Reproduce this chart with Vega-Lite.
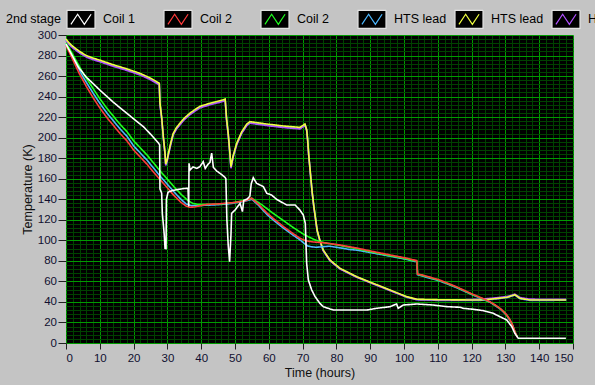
{
  "$schema": "https://vega.github.io/schema/vega-lite/v6.json",
  "width": 507,
  "height": 308,
  "autosize": {"type": "none"},
  "padding": {"left": 66, "top": 35, "right": 22, "bottom": 42},
  "background": "#c4c4c4",
  "view": {"fill": "#000000", "stroke": null},
  "config": {"font": "Liberation Sans"},
  "data": {"values": [
{"series":"HTS lead #3","hours":0,"K":295},{"series":"HTS lead #3","hours":1,"K":291},{"series":"HTS lead #3","hours":2,"K":288},{"series":"HTS lead #3","hours":4,"K":283},{"series":"HTS lead #3","hours":6,"K":279},{"series":"HTS lead #3","hours":8,"K":276.5},{"series":"HTS lead #3","hours":10,"K":274.5},{"series":"HTS lead #3","hours":14,"K":270},{"series":"HTS lead #3","hours":18,"K":266},{"series":"HTS lead #3","hours":22,"K":261.5},{"series":"HTS lead #3","hours":25,"K":257},{"series":"HTS lead #3","hours":27.6,"K":252},{"series":"HTS lead #3","hours":27.8,"K":233},{"series":"HTS lead #3","hours":28.3,"K":219},{"series":"HTS lead #3","hours":28.8,"K":200},{"series":"HTS lead #3","hours":29.3,"K":184},{"series":"HTS lead #3","hours":29.5,"K":173.5},{"series":"HTS lead #3","hours":29.9,"K":177},{"series":"HTS lead #3","hours":30.3,"K":183.7},{"series":"HTS lead #3","hours":31,"K":194},{"series":"HTS lead #3","hours":31.7,"K":203},{"series":"HTS lead #3","hours":32.7,"K":209},{"series":"HTS lead #3","hours":33.7,"K":213},{"series":"HTS lead #3","hours":35,"K":218},{"series":"HTS lead #3","hours":36.7,"K":223},{"series":"HTS lead #3","hours":38,"K":226},{"series":"HTS lead #3","hours":39.6,"K":229.5},{"series":"HTS lead #3","hours":42.6,"K":232.5},{"series":"HTS lead #3","hours":45.6,"K":235},{"series":"HTS lead #3","hours":47.1,"K":236.5},{"series":"HTS lead #3","hours":47.5,"K":217.8},{"series":"HTS lead #3","hours":48,"K":203},{"series":"HTS lead #3","hours":48.5,"K":183.8},{"series":"HTS lead #3","hours":48.8,"K":170.7},{"series":"HTS lead #3","hours":49.5,"K":182},{"series":"HTS lead #3","hours":50.5,"K":193.5},{"series":"HTS lead #3","hours":52,"K":204.8},{"series":"HTS lead #3","hours":53.5,"K":212.3},{"series":"HTS lead #3","hours":54.4,"K":214.6},{"series":"HTS lead #3","hours":59.4,"K":212.3},{"series":"HTS lead #3","hours":64.3,"K":210.4},{"series":"HTS lead #3","hours":69.2,"K":209},{"series":"HTS lead #3","hours":70.7,"K":212.3},{"series":"HTS lead #3","hours":71.2,"K":207.5},{"series":"HTS lead #3","hours":71.5,"K":197.5},{"series":"HTS lead #3","hours":71.8,"K":183.5},{"series":"HTS lead #3","hours":72.3,"K":165.5},{"series":"HTS lead #3","hours":72.8,"K":147.5},{"series":"HTS lead #3","hours":73.3,"K":133.5},{"series":"HTS lead #3","hours":73.8,"K":121.5},{"series":"HTS lead #3","hours":74.3,"K":109.5},{"series":"HTS lead #3","hours":75.1,"K":99.8},{"series":"HTS lead #3","hours":76.1,"K":90.2},{"series":"HTS lead #3","hours":78.1,"K":80.4},{"series":"HTS lead #3","hours":81.1,"K":72.3},{"series":"HTS lead #3","hours":86,"K":64.3},{"series":"HTS lead #3","hours":90.9,"K":57.8},{"series":"HTS lead #3","hours":95.9,"K":51.3},{"series":"HTS lead #3","hours":100.8,"K":44.8},{"series":"HTS lead #3","hours":103.8,"K":42.1},{"series":"HTS lead #3","hours":110,"K":41.5},{"series":"HTS lead #3","hours":115,"K":41.4},{"series":"HTS lead #3","hours":122.5,"K":41.5},{"series":"HTS lead #3","hours":125,"K":42.2},{"series":"HTS lead #3","hours":128,"K":43.2},{"series":"HTS lead #3","hours":130.5,"K":44.2},{"series":"HTS lead #3","hours":132.8,"K":46.6},{"series":"HTS lead #3","hours":134.3,"K":43.1},{"series":"HTS lead #3","hours":137.2,"K":41.5},{"series":"HTS lead #3","hours":148,"K":41.6},
{"series":"HTS lead #2","hours":0,"K":294.5},{"series":"HTS lead #2","hours":1,"K":290.5},{"series":"HTS lead #2","hours":2,"K":287.5},{"series":"HTS lead #2","hours":4,"K":282.5},{"series":"HTS lead #2","hours":6,"K":278.5},{"series":"HTS lead #2","hours":8,"K":276},{"series":"HTS lead #2","hours":10,"K":274},{"series":"HTS lead #2","hours":14,"K":269.5},{"series":"HTS lead #2","hours":18,"K":265.5},{"series":"HTS lead #2","hours":22,"K":261},{"series":"HTS lead #2","hours":25,"K":256.5},{"series":"HTS lead #2","hours":27.6,"K":251.5},{"series":"HTS lead #2","hours":27.8,"K":232.5},{"series":"HTS lead #2","hours":28.3,"K":218.5},{"series":"HTS lead #2","hours":28.8,"K":199.5},{"series":"HTS lead #2","hours":29.3,"K":183.5},{"series":"HTS lead #2","hours":29.5,"K":173},{"series":"HTS lead #2","hours":29.9,"K":176.5},{"series":"HTS lead #2","hours":30.3,"K":183.2},{"series":"HTS lead #2","hours":31,"K":193.5},{"series":"HTS lead #2","hours":31.7,"K":202.5},{"series":"HTS lead #2","hours":32.7,"K":208.5},{"series":"HTS lead #2","hours":33.7,"K":212.5},{"series":"HTS lead #2","hours":35,"K":217.5},{"series":"HTS lead #2","hours":36.7,"K":222.5},{"series":"HTS lead #2","hours":38,"K":225.5},{"series":"HTS lead #2","hours":39.6,"K":229},{"series":"HTS lead #2","hours":42.6,"K":232},{"series":"HTS lead #2","hours":45.6,"K":234.5},{"series":"HTS lead #2","hours":47.1,"K":236},{"series":"HTS lead #2","hours":47.5,"K":217.3},{"series":"HTS lead #2","hours":48,"K":202.5},{"series":"HTS lead #2","hours":48.5,"K":183.3},{"series":"HTS lead #2","hours":48.8,"K":170.2},{"series":"HTS lead #2","hours":49.5,"K":181.5},{"series":"HTS lead #2","hours":50.5,"K":193},{"series":"HTS lead #2","hours":52,"K":204.3},{"series":"HTS lead #2","hours":53.5,"K":211.8},{"series":"HTS lead #2","hours":54.4,"K":214.1},{"series":"HTS lead #2","hours":59.4,"K":211.8},{"series":"HTS lead #2","hours":64.3,"K":209.9},{"series":"HTS lead #2","hours":69.2,"K":208.5},{"series":"HTS lead #2","hours":70.7,"K":211.8},{"series":"HTS lead #2","hours":71.2,"K":207},{"series":"HTS lead #2","hours":71.5,"K":197},{"series":"HTS lead #2","hours":71.8,"K":183},{"series":"HTS lead #2","hours":72.3,"K":165},{"series":"HTS lead #2","hours":72.8,"K":147},{"series":"HTS lead #2","hours":73.3,"K":133},{"series":"HTS lead #2","hours":73.8,"K":121},{"series":"HTS lead #2","hours":74.3,"K":109},{"series":"HTS lead #2","hours":75.1,"K":99.5},{"series":"HTS lead #2","hours":76.1,"K":89.8},{"series":"HTS lead #2","hours":78.1,"K":80},{"series":"HTS lead #2","hours":81.1,"K":72},{"series":"HTS lead #2","hours":86,"K":64},{"series":"HTS lead #2","hours":90.9,"K":57.5},{"series":"HTS lead #2","hours":95.9,"K":51},{"series":"HTS lead #2","hours":100.8,"K":44.6},{"series":"HTS lead #2","hours":103.8,"K":42.3},{"series":"HTS lead #2","hours":110,"K":42},{"series":"HTS lead #2","hours":115,"K":41.8},{"series":"HTS lead #2","hours":122.5,"K":42.7},{"series":"HTS lead #2","hours":125,"K":43.3},{"series":"HTS lead #2","hours":128,"K":44.3},{"series":"HTS lead #2","hours":130.5,"K":45.3},{"series":"HTS lead #2","hours":132.8,"K":47.5},{"series":"HTS lead #2","hours":134.3,"K":44.3},{"series":"HTS lead #2","hours":137.2,"K":42.7},{"series":"HTS lead #2","hours":148,"K":42.6},
{"series":"HTS lead","hours":0,"K":296},{"series":"HTS lead","hours":1,"K":292},{"series":"HTS lead","hours":2,"K":289},{"series":"HTS lead","hours":4,"K":284},{"series":"HTS lead","hours":6,"K":280},{"series":"HTS lead","hours":8,"K":277.5},{"series":"HTS lead","hours":10,"K":275.5},{"series":"HTS lead","hours":14,"K":271},{"series":"HTS lead","hours":18,"K":267},{"series":"HTS lead","hours":22,"K":262.5},{"series":"HTS lead","hours":25,"K":258},{"series":"HTS lead","hours":27.6,"K":253},{"series":"HTS lead","hours":27.8,"K":234},{"series":"HTS lead","hours":28.3,"K":220},{"series":"HTS lead","hours":28.8,"K":201},{"series":"HTS lead","hours":29.3,"K":185},{"series":"HTS lead","hours":29.5,"K":174.5},{"series":"HTS lead","hours":29.9,"K":178},{"series":"HTS lead","hours":30.3,"K":184.7},{"series":"HTS lead","hours":31,"K":195},{"series":"HTS lead","hours":31.7,"K":204},{"series":"HTS lead","hours":32.7,"K":210},{"series":"HTS lead","hours":33.7,"K":214},{"series":"HTS lead","hours":35,"K":219},{"series":"HTS lead","hours":36.7,"K":224},{"series":"HTS lead","hours":38,"K":227},{"series":"HTS lead","hours":39.6,"K":230.5},{"series":"HTS lead","hours":42.6,"K":233.5},{"series":"HTS lead","hours":45.6,"K":236},{"series":"HTS lead","hours":47.1,"K":237.5},{"series":"HTS lead","hours":47.5,"K":218.8},{"series":"HTS lead","hours":48,"K":204},{"series":"HTS lead","hours":48.5,"K":184.8},{"series":"HTS lead","hours":48.8,"K":171.7},{"series":"HTS lead","hours":49.5,"K":183},{"series":"HTS lead","hours":50.5,"K":194.5},{"series":"HTS lead","hours":52,"K":205.8},{"series":"HTS lead","hours":53.5,"K":213.3},{"series":"HTS lead","hours":54.4,"K":215.6},{"series":"HTS lead","hours":59.4,"K":213.3},{"series":"HTS lead","hours":64.3,"K":211.4},{"series":"HTS lead","hours":69.2,"K":210},{"series":"HTS lead","hours":70.7,"K":213.3},{"series":"HTS lead","hours":71.2,"K":208},{"series":"HTS lead","hours":71.5,"K":198},{"series":"HTS lead","hours":71.8,"K":184},{"series":"HTS lead","hours":72.3,"K":166},{"series":"HTS lead","hours":72.8,"K":148},{"series":"HTS lead","hours":73.3,"K":134},{"series":"HTS lead","hours":73.8,"K":122},{"series":"HTS lead","hours":74.3,"K":110},{"series":"HTS lead","hours":75.1,"K":100.3},{"series":"HTS lead","hours":76.1,"K":90.6},{"series":"HTS lead","hours":78.1,"K":80.8},{"series":"HTS lead","hours":81.1,"K":72.7},{"series":"HTS lead","hours":86,"K":64.6},{"series":"HTS lead","hours":90.9,"K":58.1},{"series":"HTS lead","hours":95.9,"K":51.6},{"series":"HTS lead","hours":100.8,"K":45.1},{"series":"HTS lead","hours":103.8,"K":42.6},{"series":"HTS lead","hours":110,"K":42.2},{"series":"HTS lead","hours":115,"K":42},{"series":"HTS lead","hours":122.5,"K":41.9},{"series":"HTS lead","hours":125,"K":42.5},{"series":"HTS lead","hours":128,"K":43.5},{"series":"HTS lead","hours":130.5,"K":44.5},{"series":"HTS lead","hours":132.8,"K":47},{"series":"HTS lead","hours":134.3,"K":43.5},{"series":"HTS lead","hours":137.2,"K":41.9},{"series":"HTS lead","hours":148,"K":41.9},
{"series":"Coil 2 #2","hours":0,"K":291},{"series":"Coil 2 #2","hours":1,"K":285},{"series":"Coil 2 #2","hours":2,"K":278.5},{"series":"Coil 2 #2","hours":3,"K":272},{"series":"Coil 2 #2","hours":4,"K":265.5},{"series":"Coil 2 #2","hours":5,"K":259.5},{"series":"Coil 2 #2","hours":6,"K":254},{"series":"Coil 2 #2","hours":8,"K":243.5},{"series":"Coil 2 #2","hours":10,"K":233.5},{"series":"Coil 2 #2","hours":12,"K":224.5},{"series":"Coil 2 #2","hours":14,"K":216.5},{"series":"Coil 2 #2","hours":16,"K":208.5},{"series":"Coil 2 #2","hours":18,"K":201.5},{"series":"Coil 2 #2","hours":20,"K":192},{"series":"Coil 2 #2","hours":22,"K":185},{"series":"Coil 2 #2","hours":24,"K":178},{"series":"Coil 2 #2","hours":26,"K":170},{"series":"Coil 2 #2","hours":28,"K":162},{"series":"Coil 2 #2","hours":30,"K":154.5},{"series":"Coil 2 #2","hours":32,"K":147},{"series":"Coil 2 #2","hours":34,"K":140},{"series":"Coil 2 #2","hours":35.5,"K":135.5},{"series":"Coil 2 #2","hours":37,"K":133.8},{"series":"Coil 2 #2","hours":40,"K":134},{"series":"Coil 2 #2","hours":44,"K":134.5},{"series":"Coil 2 #2","hours":48,"K":135.5},{"series":"Coil 2 #2","hours":52,"K":137.5},{"series":"Coil 2 #2","hours":55,"K":140},{"series":"Coil 2 #2","hours":57,"K":134},{"series":"Coil 2 #2","hours":59.5,"K":125},{"series":"Coil 2 #2","hours":62,"K":118},{"series":"Coil 2 #2","hours":64.3,"K":112},{"series":"Coil 2 #2","hours":67,"K":105.5},{"series":"Coil 2 #2","hours":69.2,"K":100.5},{"series":"Coil 2 #2","hours":70.5,"K":97},{"series":"Coil 2 #2","hours":71.5,"K":94.5},{"series":"Coil 2 #2","hours":72.5,"K":93.8},{"series":"Coil 2 #2","hours":74,"K":93.2},{"series":"Coil 2 #2","hours":76,"K":93.8},{"series":"Coil 2 #2","hours":78,"K":94.3},{"series":"Coil 2 #2","hours":80,"K":93.2},{"series":"Coil 2 #2","hours":82,"K":92.2},{"series":"Coil 2 #2","hours":84,"K":91},{"series":"Coil 2 #2","hours":86,"K":90.5},{"series":"Coil 2 #2","hours":91,"K":87.5},{"series":"Coil 2 #2","hours":96,"K":84.5},{"series":"Coil 2 #2","hours":101,"K":81.3},{"series":"Coil 2 #2","hours":103.8,"K":79},{"series":"Coil 2 #2","hours":104,"K":66.5},{"series":"Coil 2 #2","hours":110.5,"K":60.5},{"series":"Coil 2 #2","hours":115.5,"K":54},{"series":"Coil 2 #2","hours":120.2,"K":47},{"series":"Coil 2 #2","hours":125.4,"K":39.8},{"series":"Coil 2 #2","hours":128.4,"K":33.4},{"series":"Coil 2 #2","hours":130.4,"K":27},{"series":"Coil 2 #2","hours":131.9,"K":19},{"series":"Coil 2 #2","hours":132.8,"K":10.8},{"series":"Coil 2 #2","hours":133.5,"K":6},
{"series":"Coil 2","hours":0,"K":292},{"series":"Coil 2","hours":1,"K":287},{"series":"Coil 2","hours":2,"K":281},{"series":"Coil 2","hours":3,"K":275},{"series":"Coil 2","hours":4,"K":269},{"series":"Coil 2","hours":5,"K":263},{"series":"Coil 2","hours":6,"K":258},{"series":"Coil 2","hours":8,"K":248},{"series":"Coil 2","hours":10,"K":238},{"series":"Coil 2","hours":12,"K":229},{"series":"Coil 2","hours":14,"K":221},{"series":"Coil 2","hours":16,"K":213},{"series":"Coil 2","hours":18,"K":206},{"series":"Coil 2","hours":20,"K":197},{"series":"Coil 2","hours":22,"K":190},{"series":"Coil 2","hours":24,"K":183},{"series":"Coil 2","hours":26,"K":175},{"series":"Coil 2","hours":28,"K":167},{"series":"Coil 2","hours":30,"K":159.5},{"series":"Coil 2","hours":32,"K":152},{"series":"Coil 2","hours":34,"K":145},{"series":"Coil 2","hours":36,"K":139},{"series":"Coil 2","hours":37.5,"K":136},{"series":"Coil 2","hours":39,"K":135},{"series":"Coil 2","hours":42,"K":135},{"series":"Coil 2","hours":46,"K":135.5},{"series":"Coil 2","hours":50,"K":137},{"series":"Coil 2","hours":53,"K":139},{"series":"Coil 2","hours":55,"K":141},{"series":"Coil 2","hours":58,"K":134.5},{"series":"Coil 2","hours":61,"K":127},{"series":"Coil 2","hours":64,"K":120},{"series":"Coil 2","hours":67,"K":113},{"series":"Coil 2","hours":70,"K":106.5},{"series":"Coil 2","hours":72,"K":103},{"series":"Coil 2","hours":74,"K":100},{"series":"Coil 2","hours":76,"K":98},{"series":"Coil 2","hours":81,"K":95},{"series":"Coil 2","hours":86,"K":91.8},{"series":"Coil 2","hours":91,"K":88.3},{"series":"Coil 2","hours":96,"K":85},{"series":"Coil 2","hours":101,"K":81.8},{"series":"Coil 2","hours":103.8,"K":79.5},{"series":"Coil 2","hours":104,"K":67},{"series":"Coil 2","hours":105.5,"K":65.8},{"series":"Coil 2","hours":110.5,"K":61},{"series":"Coil 2","hours":115.5,"K":54.5},{"series":"Coil 2","hours":120.2,"K":47.3},{"series":"Coil 2","hours":123,"K":43.5},{"series":"Coil 2","hours":125.4,"K":40},{"series":"Coil 2","hours":127,"K":36.8},{"series":"Coil 2","hours":128.4,"K":33.6},{"series":"Coil 2","hours":129.5,"K":30.3},{"series":"Coil 2","hours":130.4,"K":27.1},{"series":"Coil 2","hours":131.2,"K":23.3},{"series":"Coil 2","hours":131.9,"K":19},{"series":"Coil 2","hours":132.4,"K":14.8},{"series":"Coil 2","hours":132.8,"K":10.8},{"series":"Coil 2","hours":133.5,"K":6},
{"series":"Coil 1","hours":0,"K":290},{"series":"Coil 1","hours":1,"K":283},{"series":"Coil 1","hours":2,"K":276},{"series":"Coil 1","hours":3,"K":269},{"series":"Coil 1","hours":4,"K":262},{"series":"Coil 1","hours":5,"K":256},{"series":"Coil 1","hours":6,"K":250},{"series":"Coil 1","hours":8,"K":239},{"series":"Coil 1","hours":10,"K":229},{"series":"Coil 1","hours":12,"K":220},{"series":"Coil 1","hours":14,"K":212},{"series":"Coil 1","hours":16,"K":204},{"series":"Coil 1","hours":18,"K":197},{"series":"Coil 1","hours":20,"K":188},{"series":"Coil 1","hours":22,"K":181},{"series":"Coil 1","hours":24,"K":174},{"series":"Coil 1","hours":26,"K":166},{"series":"Coil 1","hours":28,"K":158.5},{"series":"Coil 1","hours":30,"K":151},{"series":"Coil 1","hours":32,"K":143.5},{"series":"Coil 1","hours":34,"K":137},{"series":"Coil 1","hours":35.5,"K":133.5},{"series":"Coil 1","hours":36.5,"K":132.2},{"series":"Coil 1","hours":38,"K":132.5},{"series":"Coil 1","hours":41.6,"K":135},{"series":"Coil 1","hours":44.6,"K":135.4},{"series":"Coil 1","hours":49.5,"K":136.7},{"series":"Coil 1","hours":53,"K":138.5},{"series":"Coil 1","hours":54.9,"K":141},{"series":"Coil 1","hours":57,"K":135},{"series":"Coil 1","hours":59.5,"K":126.5},{"series":"Coil 1","hours":62,"K":119.5},{"series":"Coil 1","hours":64.3,"K":113.5},{"series":"Coil 1","hours":67,"K":107},{"series":"Coil 1","hours":69.2,"K":102},{"series":"Coil 1","hours":71,"K":99.5},{"series":"Coil 1","hours":73,"K":98.5},{"series":"Coil 1","hours":76,"K":97.7},{"series":"Coil 1","hours":81,"K":95.5},{"series":"Coil 1","hours":86,"K":92.5},{"series":"Coil 1","hours":91,"K":89},{"series":"Coil 1","hours":96,"K":85.7},{"series":"Coil 1","hours":101,"K":82.5},{"series":"Coil 1","hours":103.8,"K":80.2},{"series":"Coil 1","hours":104,"K":67.2},{"series":"Coil 1","hours":105.5,"K":66.2},{"series":"Coil 1","hours":110.5,"K":61.4},{"series":"Coil 1","hours":115.5,"K":54.8},{"series":"Coil 1","hours":120.2,"K":47.7},{"series":"Coil 1","hours":123,"K":43.8},{"series":"Coil 1","hours":125.4,"K":40.2},{"series":"Coil 1","hours":127,"K":37},{"series":"Coil 1","hours":128.4,"K":33.8},{"series":"Coil 1","hours":129.5,"K":30.5},{"series":"Coil 1","hours":130.4,"K":27.3},{"series":"Coil 1","hours":131.2,"K":23.5},{"series":"Coil 1","hours":131.9,"K":19.2},{"series":"Coil 1","hours":132.4,"K":15},{"series":"Coil 1","hours":132.8,"K":11},{"series":"Coil 1","hours":133.5,"K":6},
{"series":"2nd stage","hours":0,"K":291},{"series":"2nd stage","hours":1,"K":285},{"series":"2nd stage","hours":2,"K":279},{"series":"2nd stage","hours":3.6,"K":269},{"series":"2nd stage","hours":6,"K":259},{"series":"2nd stage","hours":10,"K":246.4},{"series":"2nd stage","hours":14,"K":234.5},{"series":"2nd stage","hours":18,"K":223.7},{"series":"2nd stage","hours":22.9,"K":210.7},{"series":"2nd stage","hours":25,"K":203.5},{"series":"2nd stage","hours":27.4,"K":194.5},{"series":"2nd stage","hours":27.7,"K":193},{"series":"2nd stage","hours":27.8,"K":150},{"series":"2nd stage","hours":28.3,"K":146},{"series":"2nd stage","hours":28.5,"K":126},{"series":"2nd stage","hours":28.9,"K":112},{"series":"2nd stage","hours":29.1,"K":104},{"series":"2nd stage","hours":29.3,"K":92.2},{"series":"2nd stage","hours":29.6,"K":92},{"series":"2nd stage","hours":29.7,"K":140},{"series":"2nd stage","hours":30.2,"K":147},{"series":"2nd stage","hours":31.5,"K":148.5},{"series":"2nd stage","hours":33,"K":149.5},{"series":"2nd stage","hours":35,"K":150.5},{"series":"2nd stage","hours":36.1,"K":150.7},{"series":"2nd stage","hours":36.3,"K":133},{"series":"2nd stage","hours":36.4,"K":175},{"series":"2nd stage","hours":36.7,"K":168.5},{"series":"2nd stage","hours":37.6,"K":171.5},{"series":"2nd stage","hours":38.7,"K":170.1},{"series":"2nd stage","hours":39.6,"K":171.7},{"series":"2nd stage","hours":40.6,"K":176.6},{"series":"2nd stage","hours":41.2,"K":170},{"series":"2nd stage","hours":42,"K":174},{"series":"2nd stage","hours":42.6,"K":176},{"series":"2nd stage","hours":43.1,"K":185},{"series":"2nd stage","hours":43.6,"K":171},{"series":"2nd stage","hours":44.6,"K":167.5},{"series":"2nd stage","hours":46,"K":164.2},{"series":"2nd stage","hours":47,"K":161.5},{"series":"2nd stage","hours":47.3,"K":160},{"series":"2nd stage","hours":47.6,"K":120},{"series":"2nd stage","hours":48,"K":95},{"series":"2nd stage","hours":48.4,"K":79.2},{"series":"2nd stage","hours":48.8,"K":105},{"series":"2nd stage","hours":49,"K":126.3},{"series":"2nd stage","hours":50,"K":129.5},{"series":"2nd stage","hours":51.5,"K":136},{"series":"2nd stage","hours":52.2,"K":128},{"series":"2nd stage","hours":52.6,"K":139},{"series":"2nd stage","hours":53.5,"K":140},{"series":"2nd stage","hours":54.4,"K":143},{"series":"2nd stage","hours":54.8,"K":155},{"series":"2nd stage","hours":55.4,"K":161},{"series":"2nd stage","hours":56.4,"K":155.5},{"series":"2nd stage","hours":58.4,"K":152.3},{"series":"2nd stage","hours":59.4,"K":145.8},{"series":"2nd stage","hours":60.8,"K":144.2},{"series":"2nd stage","hours":62.3,"K":140},{"series":"2nd stage","hours":65.3,"K":134.4},{"series":"2nd stage","hours":67.8,"K":134.4},{"series":"2nd stage","hours":69.2,"K":129.5},{"series":"2nd stage","hours":70.2,"K":124.7},{"series":"2nd stage","hours":70.8,"K":116.6},{"series":"2nd stage","hours":71.2,"K":77.6},{"series":"2nd stage","hours":71.7,"K":61.4},{"series":"2nd stage","hours":72.7,"K":51.6},{"series":"2nd stage","hours":73.7,"K":45.1},{"series":"2nd stage","hours":75.1,"K":38.7},{"series":"2nd stage","hours":76.1,"K":35.4},{"series":"2nd stage","hours":79.1,"K":32.1},{"series":"2nd stage","hours":85,"K":32.1},{"series":"2nd stage","hours":89,"K":32.1},{"series":"2nd stage","hours":91.9,"K":33.8},{"series":"2nd stage","hours":95.9,"K":35.4},{"series":"2nd stage","hours":97.8,"K":38},{"series":"2nd stage","hours":98.3,"K":33.8},{"series":"2nd stage","hours":99.8,"K":37},{"series":"2nd stage","hours":103.8,"K":38},{"series":"2nd stage","hours":108.7,"K":37},{"series":"2nd stage","hours":112.6,"K":35.4},{"series":"2nd stage","hours":116.6,"K":34.8},{"series":"2nd stage","hours":117.5,"K":33.8},{"series":"2nd stage","hours":120.5,"K":32.8},{"series":"2nd stage","hours":123.5,"K":31.5},{"series":"2nd stage","hours":126.4,"K":28.9},{"series":"2nd stage","hours":128.4,"K":25.6},{"series":"2nd stage","hours":130.4,"K":22.4},{"series":"2nd stage","hours":131.9,"K":15.9},{"series":"2nd stage","hours":132.8,"K":9.4},{"series":"2nd stage","hours":133.8,"K":4.6},{"series":"2nd stage","hours":147.9,"K":4.6}
  ]},
  "transform": [{"calculate": "datum.series", "as": "entry"}],
  "layer": [
    {
      "mark": {"type": "line", "strokeOpacity": 0},
      "encoding": {
        "x": {"field": "hours", "type": "quantitative", "scale": {"domain": [0, 150], "nice": false, "zero": false},
          "axis": {"orient": "top", "values": [2,4,6,8,12,14,16,18,22,24,26,28,32,34,36,38,42,44,46,48,52,54,56,58,62,64,66,68,72,74,76,78,82,84,86,88,92,94,96,98,102,104,106,108,112,114,116,118,122,124,126,128,132,134,136,138,142,144,146,148], "grid": true, "gridColor": "#004200", "gridWidth": 1, "ticks": false, "labels": false, "domain": false, "title": null}},
        "y": {"field": "K", "type": "quantitative", "scale": {"domain": [0, 300], "nice": false, "zero": false},
          "axis": {"orient": "right", "values": [4,8,12,16,24,28,32,36,44,48,52,56,64,68,72,76,84,88,92,96,104,108,112,116,124,128,132,136,144,148,152,156,164,168,172,176,184,188,192,196,204,208,212,216,224,228,232,236,244,248,252,256,264,268,272,276,284,288,292,296], "grid": true, "gridColor": "#004200", "gridWidth": 1, "ticks": false, "labels": false, "domain": false, "title": null}}
      }
    },
    {
      "mark": {"type": "line", "strokeWidth": 1.6},
      "encoding": {
        "x": {"field": "hours", "type": "quantitative", "scale": {"domain": [0, 150], "nice": false, "zero": false},
          "axis": {"orient": "bottom", "values": [0,10,20,30,40,50,60,70,80,90,100,110,120,130,140,150], "grid": true, "gridColor": "#009a00", "gridWidth": 1, "domain": false, "tickSize": 6, "tickColor": "#202020", "labelFont": "Liberation Sans", "labelFontSize": 11.5, "labelColor": "#101030", "labelPadding": 3, "title": "Time (hours)", "titleFont": "Liberation Sans", "titleFontSize": 12.5, "titleFontWeight": "normal", "titleColor": "#101010", "titleY": 23}},
        "y": {"field": "K", "type": "quantitative", "scale": {"domain": [0, 300], "nice": false, "zero": false},
          "axis": {"orient": "left", "values": [0,20,40,60,80,100,120,140,160,180,200,220,240,260,280,300], "grid": true, "gridColor": "#009a00", "gridWidth": 1, "domain": false, "tickSize": 8, "tickColor": "#202020", "labelFont": "Liberation Sans", "labelFontSize": 11.5, "labelColor": "#101030", "labelPadding": 1.5, "title": "Temperature (K)", "titleFont": "Liberation Sans", "titleFontSize": 12.5, "titleFontWeight": "normal", "titleColor": "#101010", "titleX": -34.5, "titleY": 154, "titleBaseline": "alphabetic", "titleAlign": "center", "titleAngle": 270}},
        "color": {"field": "series", "type": "nominal",
          "scale": {"domain": ["2nd stage", "Coil 1", "Coil 2", "Coil 2 #2", "HTS lead", "HTS lead #2", "HTS lead #3"], "range": ["#ffffff", "#ff3b3b", "#1eff1e", "#4db8ff", "#f0ff40", "#b050ff", "#3355ff"]},
          "legend": {"orient": "none", "legendX": 0, "legendY": -31, "direction": "horizontal", "title": null, "padding": 0, "columnPadding": 5, "zindex": 1,
            "symbolType": "M-1,-0.64M1,0.64M-0.72,0.36L-0.24,-0.36L0.24,0.36L0.72,-0.36", "symbolSize": 784, "symbolStrokeWidth": 1.2, "symbolFillColor": "transparent",
            "labelFont": "Liberation Sans", "labelFontSize": 12.5, "labelColor": "#000000", "labelOpacity": 0, "labelAlign": "left", "labelOffset": -90, "labelExpr": "split(datum.label, ' #')[0]"}},
        "strokeDash": {"field": "entry", "type": "nominal",
          "scale": {"range": [[1,0],[1,0],[1,0],[1,0],[1,0],[1,0],[1,0]]},
          "legend": {"orient": "none", "legendX": 0, "legendY": -31, "direction": "horizontal", "title": null, "padding": 0, "columnPadding": 5, "zindex": 0,
            "symbolType": "M-1,-0.64H1V0.64H-1Z", "symbolSize": 784, "symbolStrokeWidth": 1.2, "symbolFillColor": "#000000", "symbolStrokeColor": "#e2e2e2",
            "labelFont": "Liberation Sans", "labelFontSize": 12.5, "labelColor": "#000000", "labelAlign": "left", "labelOffset": -90, "labelExpr": "split(datum.label, ' #')[0]"}}
      }
    }
  ],
  "resolve": {"axis": {"x": "independent", "y": "independent"}}
}
